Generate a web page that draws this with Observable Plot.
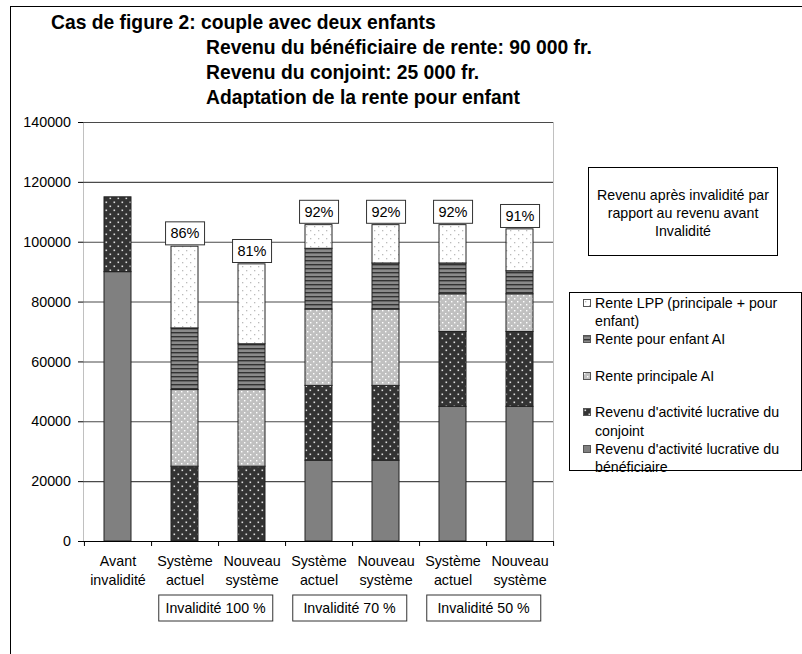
<!DOCTYPE html>
<html>
<head>
<meta charset="utf-8">
<script src="https://cdn.jsdelivr.net/npm/d3@7"></script>
<script src="https://cdn.jsdelivr.net/npm/@observablehq/plot@0.6"></script>
<style>
  body { margin: 0; background: #fff; }
  #wrap { position: relative; width: 802px; height: 654px; overflow: hidden; background: #fff;
          font-family: "Liberation Sans", Arial, sans-serif; color: #000; }
  #chart { position: absolute; left: 0; top: 0; }
  .title { position: absolute; font-weight: bold; font-size: 19.3px; line-height: 25px; white-space: nowrap; }
  #frame { position: absolute; left: 10px; top: 6px; width: 900px; height: 800px; border: 1.5px solid #000; box-sizing: border-box; pointer-events: none; }
  #note { position: absolute; left: 588px; top: 167px; width: 190px; height: 89px; border: 1px solid #000;
          box-sizing: border-box; background: #fff; text-align: center; font-size: 14.2px; line-height: 18px;
          padding-top: 18px; white-space: pre-line; }
  #legend { position: absolute; left: 569px; top: 292px; width: 233px; height: 179px; border: 1px solid #000;
            box-sizing: border-box; background: #fff; }
  .entry { position: absolute; left: 25px; font-size: 14.2px; line-height: 18.3px; white-space: pre-line; }
  .sw { position: absolute; left: 13px; width: 8px; height: 8px; }
</style>
</head>
<body>
<svg width="0" height="0" style="position:absolute">
  <defs>
    <pattern id="pConj" width="8" height="8" patternUnits="userSpaceOnUse">
      <rect width="8" height="8" fill="#333"/>
      <rect x="1.5" y="1.5" width="1.6" height="1.6" fill="#ddd"/>
      <rect x="5.5" y="5.5" width="1.6" height="1.6" fill="#ddd"/>
    </pattern>
    <pattern id="pAI" width="6" height="6" patternUnits="userSpaceOnUse">
      <rect width="6" height="6" fill="#c0c0c0"/>
      <rect x="1" y="1" width="1.4" height="1.4" fill="#fff"/>
      <rect x="4" y="4" width="1.4" height="1.4" fill="#fff"/>
    </pattern>
    <pattern id="pEnf" width="4" height="4" patternUnits="userSpaceOnUse">
      <rect width="4" height="4" fill="#8a8a8a"/>
      <rect y="0" width="4" height="1.4" fill="#333"/>
    </pattern>
    <pattern id="pLPP" width="8" height="8" patternUnits="userSpaceOnUse">
      <rect width="8" height="8" fill="#fff"/>
      <rect x="2" y="2" width="1.3" height="1.3" fill="#bbb"/>
      <rect x="6" y="6" width="1.3" height="1.3" fill="#bbb"/>
    </pattern>
  </defs>
</svg>
<div id="wrap">
  <div id="chart"></div>
  <div id="titles"></div>
  <div id="note"></div>
  <div id="legend"></div>
  <div id="frame"></div>
</div>
<script>
// ---- data ----
const titleLines = [
  "Cas de figure 2: couple avec deux enfants",
  "Revenu du bénéficiaire de rente: 90 000 fr.",
  "Revenu du conjoint: 25 000 fr.",
  "Adaptation de la rente pour enfant"
];
const categories = ["Avant invalidité", "Système actuel 100 %", "Nouveau système 100 %",
  "Système actuel 70 %", "Nouveau système 70 %", "Système actuel 50 %", "Nouveau système 50 %"];
const xLabels = ["Avant\ninvalidité", "Système\nactuel", "Nouveau\nsystème",
  "Système\nactuel", "Nouveau\nsystème", "Système\nactuel", "Nouveau\nsystème"];
const seriesNames = [
  "Revenu d'activité lucrative du bénéficiaire",
  "Revenu d'activité lucrative du conjoint",
  "Rente principale AI",
  "Rente pour enfant AI",
  "Rente LPP (principale + pour enfant)"
];
const legendLabels = [
  "Rente LPP (principale + pour\nenfant)",
  "Rente pour enfant AI",
  "Rente principale AI",
  "Revenu d'activité lucrative du\nconjoint",
  "Revenu d'activité lucrative du\nbénéficiaire"
];
const benef   = [90000,     0,     0, 27000, 27000, 45000, 45000];
const conj    = [25000, 25000, 25000, 25000, 25000, 25000, 25000];
const aiPrinc = [    0, 25600, 25600, 25500, 25500, 12600, 12600];
const aiEnf   = [    0, 20600, 15300, 20300, 15400, 10300,  7700];
const lpp     = [    0, 27300, 26700,  7900, 12800, 12800, 14000];
const pctLabels = ["", "86%", "81%", "92%", "92%", "92%", "91%"];
const groupLabels = ["Invalidité 100 %", "Invalidité 70 %", "Invalidité 50 %"];
const groupFirstCat = [categories[1], categories[3], categories[5]];
const yTicks = [0, 20000, 40000, 60000, 80000, 100000, 120000, 140000];
const noteText = "Revenu après invalidité par\nrapport au revenu avant\nInvalidité";

// ---- styles ----
const seriesFills = ["#808080", "url(#pConj)", "url(#pAI)", "url(#pEnf)", "url(#pLPP)"];
const legendOrder = [4, 3, 2, 1, 0];

// ---- build ----
const values = [benef, conj, aiPrinc, aiEnf, lpp];
const rows = [];
categories.forEach((c, i) => seriesNames.forEach((s, j) => {
  if (values[j][i] > 0) rows.push({cat: c, series: s, value: values[j][i]});
}));
const totals = categories.map((c, i) => values.reduce((a, v) => a + v[i], 0));
const pctRows = categories.map((c, i) => ({cat: c, total: totals[i], label: pctLabels[i]})).filter(d => d.label);
const xRows = categories.map((c, i) => ({cat: c, label: xLabels[i]}));
const groupRows = groupLabels.map((g, i) => ({cat: groupFirstCat[i], label: g}));

const W = 802, H = 654, mL = 83, mR = 249, mT = 122, mB = 113;
const step = (W - mL - mR) / categories.length;

const chart = Plot.plot({
  width: W, height: H,
  marginLeft: mL, marginRight: mR, marginTop: mT, marginBottom: mB,
  style: {fontFamily: '"Liberation Sans", Arial, sans-serif', fontSize: "14.3px", color: "#000", background: "transparent"},
  x: {domain: categories, paddingInner: 0.6, paddingOuter: 0.3, axis: null},
  y: {domain: [0, 140000], ticks: yTicks, tickFormat: d => String(d), label: null, tickSize: 5, tickPadding: 7.5, line: true},
  color: {type: "ordinal", domain: seriesNames, range: seriesFills},
  marks: [
    Plot.frame({stroke: "#c0c0c0"}),
    Plot.ruleY(yTicks.filter(d => d > 0), {stroke: "#4a4a4a", strokeWidth: 1.1}),
    Plot.barY(rows, {x: "cat", y: "value", fill: "series", stroke: "#222", strokeWidth: 1}),
    Plot.ruleY([0], {stroke: "#000"}),
    Plot.ruleX(categories, {x: d => d, y1: 0, y2: 0, insetBottom: -5, dx: step / 2, stroke: "#000"}),
    Plot.ruleX([categories[0]], {x: d => d, y1: 0, y2: 0, insetBottom: -5, dx: -step / 2, stroke: "#000"}),
    Plot.text(xRows, {x: "cat", text: "label", frameAnchor: "bottom", dy: 43.5, lineHeight: 1.35, fontSize: 14.3, fill: "#000"}),
    Plot.text(pctRows, {x: "cat", y: "total", text: "label", dy: -13, fontSize: 14.5, fill: "#000"}),
    Plot.text(groupRows, {x: "cat", text: "label", frameAnchor: "bottom", dx: step / 2 - 3, dy: 71.5, fontSize: 14.2, fill: "#000"})
  ]
});
document.getElementById("chart").append(chart);

// boxes behind label texts
const ns = "http://www.w3.org/2000/svg";
function boxify(g, w, h) {
  g.querySelectorAll("text").forEach(t => {
    const b = t.getBBox();
    const r = document.createElementNS(ns, "rect");
    r.setAttribute("x", b.x + b.width / 2 - w / 2);
    r.setAttribute("y", b.y + b.height / 2 - h / 2);
    r.setAttribute("width", w);
    r.setAttribute("height", h);
    r.setAttribute("fill", "#fff");
    r.setAttribute("stroke", "#333");
    r.setAttribute("stroke-width", "1");
    if (t.getAttribute("transform")) r.setAttribute("transform", t.getAttribute("transform"));
    t.parentNode.insertBefore(r, t);
  });
}
const textGroups = chart.querySelectorAll('g[aria-label="text"]');
if (textGroups[1]) boxify(textGroups[1], 39, 23);
if (textGroups[2]) boxify(textGroups[2], 114, 26);

// titles
const titleLeft = [51, 206, 206, 206];
const titleTop = [10, 34.9, 59.8, 84.7];
const tEl = document.getElementById("titles");
titleLines.forEach((s, i) => {
  const d = document.createElement("div");
  d.className = "title";
  d.style.left = titleLeft[i] + "px";
  d.style.top = titleTop[i] + "px";
  d.textContent = s;
  tEl.append(d);
});

// note
document.getElementById("note").textContent = noteText;

// legend
const lg = document.getElementById("legend");
legendOrder.forEach((si, k) => {
  const top = 0.5 + k * 36.6;
  const e = document.createElement("div");
  e.className = "entry";
  e.style.top = top + "px";
  e.textContent = legendLabels[k];
  lg.append(e);
  const sw = document.createElementNS(ns, "svg");
  sw.setAttribute("class", "sw");
  sw.setAttribute("width", 8); sw.setAttribute("height", 8);
  sw.style.top = (top + 9.15 - 4) + "px";
  const r = document.createElementNS(ns, "rect");
  r.setAttribute("x", 0.5); r.setAttribute("y", 0.5);
  r.setAttribute("width", 7); r.setAttribute("height", 7);
  r.setAttribute("fill", seriesFills[si]);
  r.setAttribute("stroke", "#555");
  sw.append(r);
  lg.append(sw);
});
</script>
</body>
</html>
